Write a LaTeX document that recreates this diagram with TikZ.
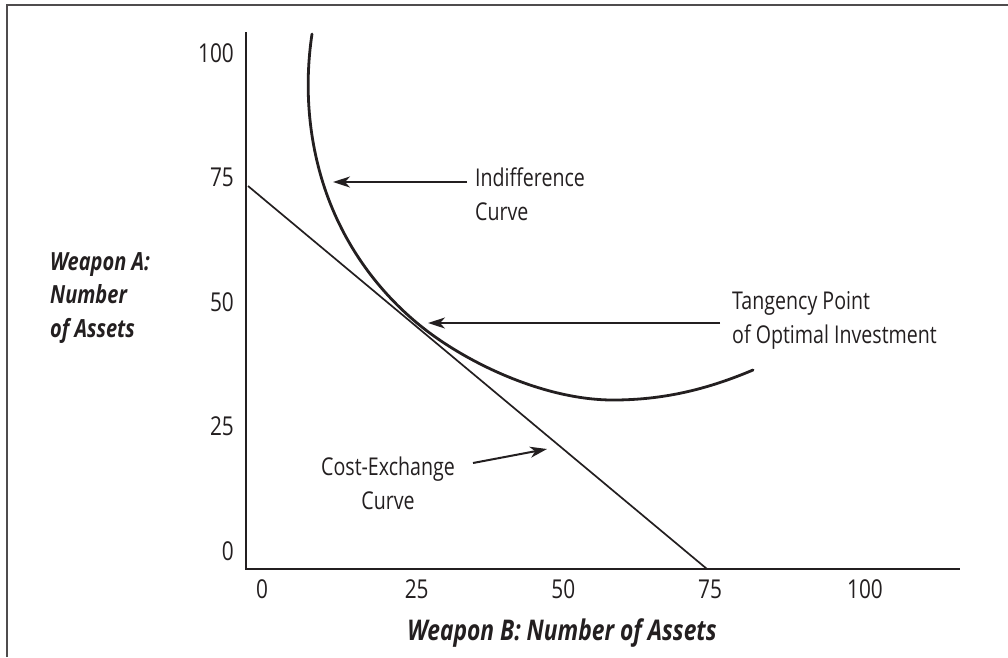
\documentclass[tikz,border=0pt]{standalone}
\usepackage{fontspec}
\setmainfont{Open Sans}[FakeStretch=0.8]
\usetikzlibrary{arrows.meta}
\definecolor{ink}{HTML}{231F20}
\begin{document}
\begin{tikzpicture}[x=1pt,y=-1pt,
  frame/.style={line width=2pt, draw=ink!80},
  axis/.style={line width=2.6pt, draw=ink},
  costline/.style={line width=1.7pt, draw=ink},
  indiff/.style={line width=2.8pt, draw=ink, line cap=round},
  pointer/.style={line width=2pt, draw=ink, -{Stealth[length=17pt,width=11pt,inset=5pt]}},
  tick/.style={text=ink, inner sep=0pt, font=\fontsize{26}{30}\selectfont},
  lbl/.style={text=ink, inner sep=0pt, font=\fontsize{24.5}{34}\selectfont},
  ytitle/.style={text=ink, inner sep=0pt, align=left, font=\fontsize{25}{33.5}\selectfont\bfseries\itshape},
  xtitle/.style={text=ink, inner sep=0pt, font=\fontsize{28.5}{32}\selectfont\bfseries\itshape}]
\useasboundingbox (0,0) rectangle (1008,657);
% frame
\draw[frame] (7,657) -- (7,5) -- (1008,5);
% axes
\coordinate (O) at (246,569);
\coordinate (ytop) at (246,32);
\coordinate (xend) at (960,569);
\draw[axis] (ytop) -- (O) -- (xend);
% y tick labels
\node[tick, anchor=east] (y100) at (234,52.8) {100};
\node[tick, anchor=east] (y75) at (234,177.5) {75};
\node[tick, anchor=east] (y50) at (234,301.7) {50};
\node[tick, anchor=east] (y25) at (234,426.7) {25};
\node[tick, anchor=east] (y0) at (234,550.8) {0};
% x tick labels
\node[tick] (x0) at (262,589) {0};
\node[tick] (x25) at (416.7,589) {25};
\node[tick] (x50) at (563.3,589) {50};
\node[tick] (x75) at (710,589) {75};
\node[tick] (x100) at (865,589) {100};
% axis titles
\node[ytitle, anchor=north west] (ttlA) at (50,252) {Weapon A:\\Number\\of Assets};
\node[xtitle, anchor=base] (ttlB) at (562,640) {Weapon B: Number of Assets};
% cost-exchange line
\coordinate (c1) at (248,186);
\coordinate (c2) at (707,569);
\draw[costline] (c1) -- (c2);
% indifference curve
\coordinate (i0) at (312,34);
\coordinate (i1) at (323,183);
\coordinate (i2) at (417,323);
\coordinate (i3) at (613,400);
\coordinate (i4) at (753,370);
\draw[indiff] (i0) .. controls (303.75,89) and (309.5,140) .. (i1)
  .. controls (341,240.2) and (374.8,287.8) .. (i2)
  .. controls (463,361.4) and (543,400) .. (i3)
  .. controls (663,400) and (707,389.5) .. (i4);
% labels
\node[lbl, anchor=west, align=left] (lblInd) at (475,194) {Indifference\\Curve};
\node[lbl, anchor=west, align=left] (lblTan) at (732,320.4) {Tangency Point\\of Optimal Investment};
\node[lbl, align=center] (lblCost) at (388,483.4) {Cost-Exchange\\Curve};
% pointers
\coordinate (indTail) at (467,182);
\coordinate (indTip) at (333,182);
\coordinate (tanTail) at (720,323);
\coordinate (tanTip) at (428,323);
\coordinate (costTail) at (473,463);
\coordinate (costTip) at (547,449);
\draw[pointer] (indTail) -- (indTip);
\draw[pointer] (tanTail) -- (tanTip);
\draw[pointer] (costTail) -- (costTip);
\end{tikzpicture}
\end{document}
